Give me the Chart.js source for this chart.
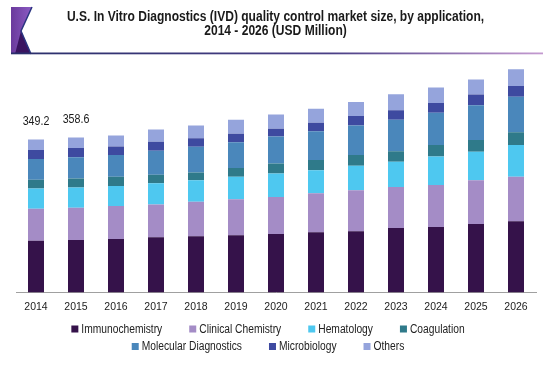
<!DOCTYPE html>
<html>
<head>
<meta charset="utf-8">
<title>U.S. IVD quality control market size</title>
<script src="https://cdn.jsdelivr.net/npm/chart.js@4.4.1/dist/chart.umd.min.js"></script>
<style>
  html, body { margin: 0; padding: 0; background: #fff; }
  #wrap { width: 543px; height: 365px; position: relative; }
</style>
</head>
<body>
<div id="wrap"><canvas id="myChart"></canvas></div>
<script>
// data (USD Million)
const years = ["2014", "2015", "2016", "2017", "2018", "2019", "2020", "2021", "2022", "2023", "2024", "2025", "2026"];
const immunochemistry = [118.2, 119.5, 122.0, 125.8, 128.1, 130.4, 133.5, 137.3, 139.6, 147.3, 149.6, 156.5, 162.7];
const clinicalChemistry = [72.9, 73.6, 75.2, 75.2, 79.0, 82.1, 84.4, 89.0, 93.6, 93.6, 95.9, 99.7, 101.3];
const hematology = [46.0, 46.6, 46.0, 48.3, 49.1, 51.4, 53.7, 52.9, 56.0, 57.5, 65.2, 65.2, 72.9];
const coagulation = [20.0, 20.6, 20.7, 19.2, 17.6, 20.0, 23.0, 23.0, 24.6, 23.8, 26.1, 26.9, 29.2];
const molecularDiagnostics = [47.6, 48.5, 49.9, 55.2, 59.1, 59.1, 61.4, 66.0, 67.5, 72.1, 73.7, 79.0, 80.6];
const microbiology = [20.7, 21.0, 19.2, 20.7, 19.2, 19.2, 17.6, 19.2, 21.5, 21.5, 22.3, 24.6, 24.6];
const others = [23.8, 24.2, 25.3, 27.6, 29.2, 32.2, 33.0, 32.2, 32.2, 36.8, 35.3, 34.5, 38.4];
const topLabels = ["349.2", "358.6"];
const titleLines = [
  "U.S. In Vitro Diagnostics (IVD) quality control market size, by application,",
  "2014 - 2026 (USD Million)",
];

// no narrow font installed, so squeeze Liberation Sans by hand
const FONT = "'Liberation Sans', Arial, sans-serif";
const SQUEEZE = 0.82;

function narrowText(ctx, text, x, y, align, sq) {
  ctx.save();
  ctx.translate(x, y);
  ctx.scale(sq || SQUEEZE, 1);
  ctx.textAlign = align || "left";
  ctx.fillText(text, 0, 0);
  ctx.restore();
}

// legend split in two rows like the original
const legendRows = [[0, 1, 2, 3], [4, 5, 6]];
const legendY = [329, 346.5];

const header = {
  id: "header",
  beforeDraw(chart) {
    const ctx = chart.ctx;
    ctx.save();
    // left purple tab
    let g = ctx.createLinearGradient(11, 0, 32, 0);
    g.addColorStop(0, "#6a3a9c");
    g.addColorStop(1, "#8c5cc4");
    ctx.fillStyle = g;
    ctx.beginPath();
    ctx.moveTo(11, 7);
    ctx.lineTo(32, 7);
    ctx.lineTo(21, 31);
    ctx.lineTo(31, 54);
    ctx.lineTo(11, 54);
    ctx.closePath();
    ctx.fill();
    ctx.fillStyle = "#3a1460";
    ctx.beginPath();
    ctx.moveTo(21, 31);
    ctx.lineTo(31, 54);
    ctx.lineTo(15, 54);
    ctx.closePath();
    ctx.fill();
    ctx.strokeStyle = "#2a3580";
    ctx.lineWidth = 1.5;
    ctx.beginPath();
    ctx.moveTo(32, 7);
    ctx.lineTo(21, 31);
    ctx.lineTo(31, 54);
    ctx.stroke();
    // underline
    g = ctx.createLinearGradient(11, 0, 543, 0);
    g.addColorStop(0, "#2a2f6b");
    g.addColorStop(0.6, "#4a3f86");
    g.addColorStop(1, "#c49ad0");
    ctx.fillStyle = g;
    ctx.fillRect(11, 52.5, 532, 1.8);
    // title
    ctx.fillStyle = "#1a1a1a";
    ctx.font = "bold 14px " + FONT;
    ctx.textBaseline = "middle";
    narrowText(ctx, titleLines[0], 275.5, 17, "center", 0.86);
    narrowText(ctx, titleLines[1], 275.5, 31.5, "center", 0.86);
    ctx.restore();
  },
};

const valueLabels = {
  id: "valueLabels",
  afterDatasetsDraw(chart) {
    const ctx = chart.ctx;
    const x = chart.scales.x;
    const y = chart.scales.y;
    ctx.save();
    ctx.font = "13px " + FONT;
    ctx.fillStyle = "#1a1a1a";
    ctx.textBaseline = "middle";
    topLabels.forEach((t, i) => {
      const sum = chart.data.datasets.reduce((s, d) => s + d.data[i], 0);
      narrowText(ctx, t, x.getPixelForValue(i), y.getPixelForValue(sum) - 18, "center");
    });
    ctx.restore();
  },
};

const rowLegend = {
  id: "rowLegend",
  afterDraw(chart) {
    const ctx = chart.ctx;
    const ds = chart.data.datasets;
    ctx.save();
    ctx.font = "12.5px " + FONT;
    ctx.textBaseline = "middle";
    legendRows.forEach((row, r) => {
      const widths = row.map((i) => 10 + ctx.measureText(ds[i].label).width * SQUEEZE);
      const total = widths.reduce((a, b) => a + b, 0) + 27 * (row.length - 1);
      let xx = 268 - total / 2;
      row.forEach((i, k) => {
        ctx.fillStyle = ds[i].backgroundColor;
        ctx.fillRect(xx, legendY[r] - 3.5, 7, 7);
        ctx.fillStyle = "#222";
        narrowText(ctx, ds[i].label, xx + 10, legendY[r] + 0.5);
        xx += widths[k] + 27;
      });
    });
    ctx.restore();
  },
};

const ctx = document.getElementById("myChart");

new Chart(ctx, {
  type: "bar",
  data: {
    labels: years,
    datasets: [
      { label: "Immunochemistry", data: immunochemistry, backgroundColor: "#35124a" },
      { label: "Clinical Chemistry", data: clinicalChemistry, backgroundColor: "#a48cc6" },
      { label: "Hematology", data: hematology, backgroundColor: "#4ec8f0" },
      { label: "Coagulation", data: coagulation, backgroundColor: "#2f7a8a" },
      { label: "Molecular Diagnostics", data: molecularDiagnostics, backgroundColor: "#4a87bb" },
      { label: "Microbiology", data: microbiology, backgroundColor: "#3e4aa0" },
      { label: "Others", data: others, backgroundColor: "#95a4dc" },
    ],
  },
  options: {
    responsive: true,
    maintainAspectRatio: false,
    animation: false,
    datasets: {
      bar: { barPercentage: 0.4, categoryPercentage: 1.0 },
    },
    layout: {
      padding: { left: 16, right: 7, top: 56, bottom: 44 },
    },
    plugins: {
      legend: { display: false },
      tooltip: { enabled: false },
      title: { display: false },
    },
    scales: {
      x: {
        stacked: true,
        grid: { display: false, drawTicks: false },
        border: { display: true, color: "#a0a0a0", width: 1 },
        ticks: { color: "#222", font: { family: FONT, size: 10.5 }, padding: 8, maxRotation: 0 },
      },
      y: {
        stacked: true,
        display: false,
        min: 0,
        max: 540,
      },
    },
  },
  plugins: [header, valueLabels, rowLegend],
});
</script>
</body>
</html>
